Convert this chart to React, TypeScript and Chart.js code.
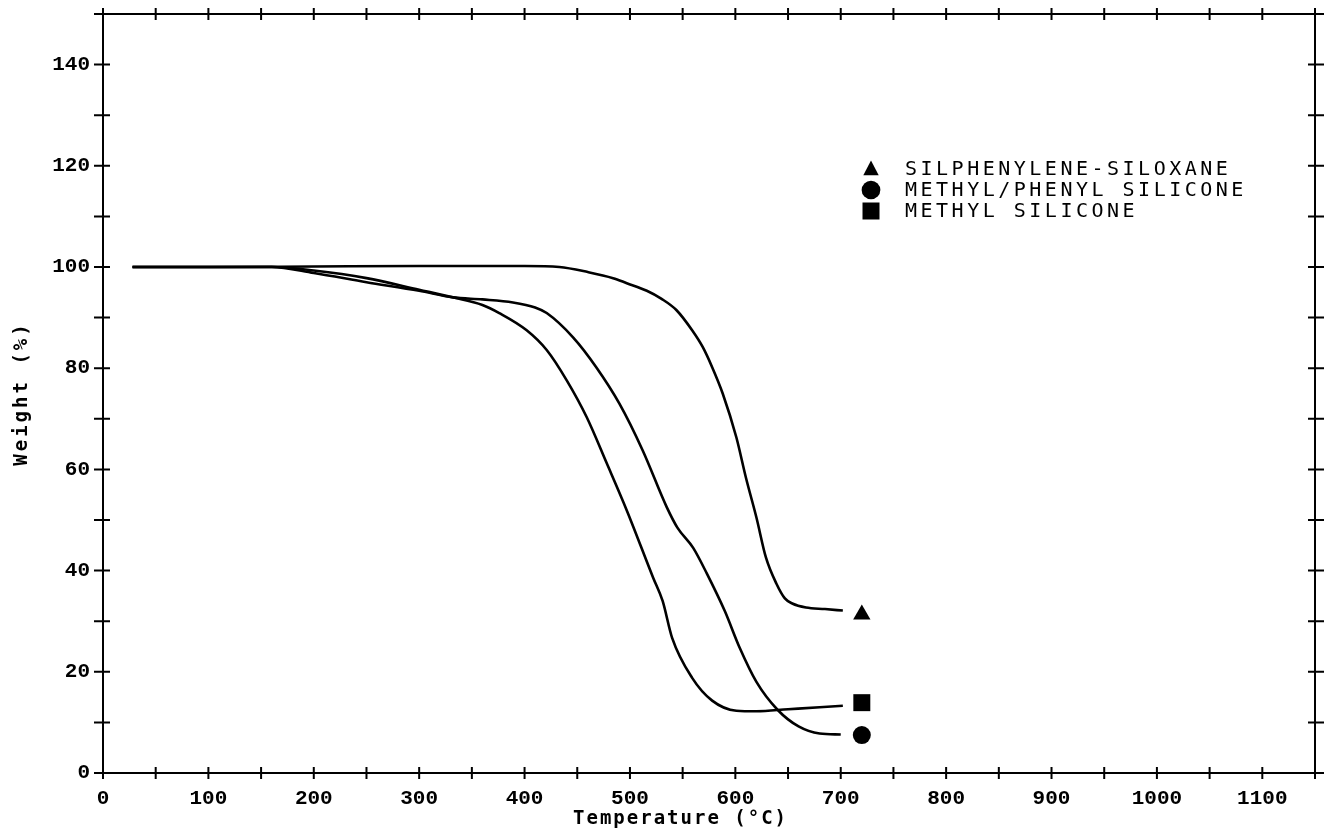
import React, { useEffect, useRef } from 'react';
import { Chart, registerables } from 'chart.js';

Chart.register(...registerables);

// ---- data ----
const ssTemps = [28, 100, 200, 300, 400, 433, 460, 484, 497, 516, 530, 544, 559, 569, 578, 588, 601, 610, 620, 629, 639, 647, 654, 667, 685, 702];
const ssWeights = [100, 100, 100.1, 100.2, 100.2, 100, 99, 97.8, 96.8, 95.3, 93.7, 91.5, 87.5, 84.2, 80.2, 75, 66.3, 58.4, 50.5, 42.6, 37.4, 34.5, 33.5, 32.7, 32.4, 32.1];

const mpTemps = [28, 160, 200, 250, 300, 332, 360, 389, 410, 421, 446, 468, 490, 512, 535, 545, 560, 573, 590, 604, 620, 640, 660, 680, 700];
const mpWeights = [100, 100, 98.8, 97, 95.3, 94, 93.6, 93, 92, 90.9, 86.1, 80.2, 73, 63.8, 52.5, 48.5, 44.5, 39.4, 32, 24.8, 18, 12.5, 9.2, 7.8, 7.6];

const msTemps = [28, 160, 200, 250, 300, 332, 360, 376, 402, 421, 440, 459, 478, 497, 522, 531, 540, 559, 578, 601, 620, 650, 680, 702];
const msWeights = [100, 100, 99.3, 97.8, 95.5, 94, 92.5, 90.9, 87.5, 83.6, 77.6, 70.3, 61.2, 51.9, 38.6, 34, 26.7, 18.8, 14.3, 12.3, 12.2, 12.6, 13, 13.3];

const seriesNames = ['SILPHENYLENE-SILOXANE', 'METHYL/PHENYL SILICONE', 'METHYL SILICONE'];
const markerStyles = ['triangle', 'circle', 'rect'];
const markerTemp = 720;
const markerWeights = [31.3, 7.5, 13.9];

const xTickValues = [0, 100, 200, 300, 400, 500, 600, 700, 800, 900, 1000, 1100];
const yTickValues = [0, 20, 40, 60, 80, 100, 120, 140];
const xMinorStep = 50;
const yMinorStep = 10;
const xMin = 0, xMax = 1150, yMin = 0, yMax = 150;

const xTitle = 'Temperature (°C)';
const yTitle = 'Weight (%)';

const toPts = (t: number[], w: number[]) => t.map((v, i) => ({ x: v, y: w[i] }));

function drawMarker(ctx: CanvasRenderingContext2D, style: string, x: number, y: number, s: number) {
  ctx.beginPath();
  if (style === 'triangle') {
    ctx.moveTo(x, y - s * 0.6);
    ctx.lineTo(x + s * 0.55, y + s * 0.45);
    ctx.lineTo(x - s * 0.55, y + s * 0.45);
    ctx.closePath();
  } else if (style === 'circle') {
    ctx.arc(x, y, s * 0.55, 0, Math.PI * 2);
  } else {
    ctx.rect(x - s * 0.5, y - s * 0.5, s, s);
  }
  ctx.fill();
}

const framePlugin = {
  id: 'framePlugin',
  afterDraw(chart: any) {
    const ctx = chart.ctx as CanvasRenderingContext2D;
    const { left, right, top, bottom } = chart.chartArea;
    const xs = chart.scales.x;
    const ys = chart.scales.y;
    ctx.save();
    ctx.strokeStyle = '#000';
    ctx.fillStyle = '#000';
    ctx.lineWidth = 2;
    ctx.strokeRect(left, top, right - left, bottom - top);
    // ticks crossing the frame
    ctx.beginPath();
    for (let v = xMin; v <= xMax + 0.001; v += xMinorStep) {
      const px = xs.getPixelForValue(v);
      ctx.moveTo(px, bottom - 6); ctx.lineTo(px, bottom + 6);
      ctx.moveTo(px, top - 6); ctx.lineTo(px, top + 6);
    }
    for (let v = yMin; v <= yMax + 0.001; v += yMinorStep) {
      const py = ys.getPixelForValue(v);
      ctx.moveTo(left - 9, py); ctx.lineTo(left + 7, py);
      ctx.moveTo(right - 7, py); ctx.lineTo(right + 9, py);
    }
    ctx.stroke();

    // axis titles
    ctx.font = 'bold 19px "DejaVu Sans Mono"';
    ctx.textAlign = 'center';
    ctx.textBaseline = 'middle';
    (ctx as any).letterSpacing = '2px';
    ctx.fillText(xTitle, xs.getPixelForValue(548), 819);
    ctx.save();
    (ctx as any).letterSpacing = '3px';
    ctx.translate(22, (top + bottom) / 2);
    ctx.rotate(-Math.PI / 2);
    ctx.fillText(yTitle, 0, 0);
    ctx.restore();

    // legend
    ctx.font = '20px "DejaVu Sans Mono"';
    (ctx as any).letterSpacing = '3.5px';
    ctx.textAlign = 'left';
    const rowY = [169, 190, 211];
    seriesNames.forEach((name, i) => {
      drawMarker(ctx, markerStyles[i], 871, rowY[i], i === 0 ? 14 : 17);
      ctx.fillText(name, 905, rowY[i] + 1);
    });
    (ctx as any).letterSpacing = '0px';
    ctx.restore();
  },
};

export default function App() {
  const ref = useRef<HTMLCanvasElement | null>(null);
  useEffect(() => {
    if (!ref.current) return;
    const lineDs = (t: number[], w: number[]) => ({
      data: toPts(t, w),
      showLine: true,
      borderColor: '#000',
      borderWidth: 2.6,
      pointRadius: 0,
      cubicInterpolationMode: 'monotone' as const,
      fill: false,
    });
    const markerDs = (i: number) => ({
      data: [{ x: markerTemp, y: markerWeights[i] }],
      showLine: false,
      pointStyle: markerStyles[i],
      pointRadius: i === 0 ? 10 : i === 1 ? 9 : 12,
      backgroundColor: '#000',
      borderColor: '#000',
      borderWidth: 0,
    });
    const chart = new Chart(ref.current, {
      type: 'scatter',
      data: {
        datasets: [
          lineDs(ssTemps, ssWeights),
          lineDs(mpTemps, mpWeights),
          lineDs(msTemps, msWeights),
          markerDs(0),
          markerDs(1),
          markerDs(2),
        ] as any,
      },
      options: {
        animation: false,
        responsive: true,
        maintainAspectRatio: false,
        layout: { padding: { top: 14, right: 11, left: 0, bottom: 0 } },
        plugins: { legend: { display: false }, tooltip: { enabled: false } },
        scales: {
          x: {
            type: 'linear',
            min: xMin,
            max: xMax,
            afterBuildTicks: (s: any) => { s.ticks = xTickValues.map((v) => ({ value: v })); },
            afterFit: (s: any) => { s.height = 64; s.paddingLeft = 0; s.paddingRight = 0; },
            grid: { display: false, drawTicks: false },
            border: { display: false },
            ticks: {
              color: '#000',
              padding: 13,
              maxRotation: 0,
              autoSkip: false,
              font: { family: '"Liberation Mono"', weight: 'bold', size: 21 },
              callback: (v: any) => String(v),
            },
          },
          y: {
            type: 'linear',
            min: yMin,
            max: yMax,
            afterBuildTicks: (s: any) => { s.ticks = yTickValues.map((v) => ({ value: v })); },
            afterFit: (s: any) => { s.width = 103; s.paddingTop = 0; s.paddingBottom = 0; },
            grid: { display: false, drawTicks: false },
            border: { display: false },
            ticks: {
              color: '#000',
              padding: 13,
              autoSkip: false,
              font: { family: '"Liberation Mono"', weight: 'bold', size: 21 },
              callback: (v: any) => String(v),
            },
          },
        },
      } as any,
      plugins: [framePlugin],
    });
    return () => chart.destroy();
  }, []);
  return (
    <div style={{ position: 'absolute', left: 0, top: 0, width: 1327, height: 837, background: '#fff' }}>
      <canvas ref={ref} />
    </div>
  );
}
